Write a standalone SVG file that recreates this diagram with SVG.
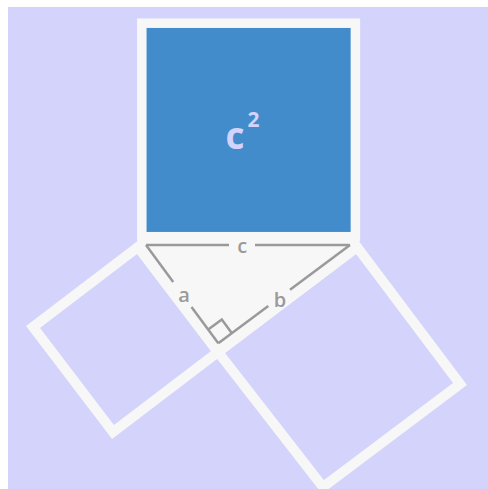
<svg xmlns="http://www.w3.org/2000/svg" width="488" height="489" viewBox="0 0 488 489">
  <defs>
    <style>
      .frame { fill: none; stroke: #f7f7f7; stroke-width: 10; stroke-linejoin: miter; }
      .tri { fill: #f7f7f7; stroke: #f7f7f7; stroke-width: 10; stroke-linejoin: round; }
      .guide { fill: none; stroke: #9a9a9a; stroke-width: 2.5; stroke-linecap: butt; }
      .lbl { font-family: "Open Sans", "Liberation Sans", sans-serif; font-weight: 600; font-size: 20px; fill: #9a9a9a; text-anchor: middle; }
      .sq { font-family: "Open Sans", "Liberation Sans", sans-serif; font-weight: 700; fill: #d3d3fc; text-anchor: middle; }
    </style>
  </defs>
  <rect x="0" y="0" width="488" height="489" fill="#ffffff"/>
  <rect x="8" y="7" width="480" height="482" fill="#d3d3fc"/>

  <g id="square-a">
    <polygon class="frame" points="138,247 218,352 113,432 33,327"/>
  </g>
  <g id="square-b">
    <polygon class="frame" points="218,352 357,247 460,384 323,487"/>
  </g>
  <g id="triangle">
    <rect x="138" y="236" width="219" height="12" fill="#f7f7f7"/>
    <polygon class="tri" points="138,247 357,247 218,352"/>
  </g>
  <g id="square-c">
    <rect x="141.8" y="23.2" width="213.6" height="213.5" fill="#438ccb" stroke="#f7f7f7" stroke-width="9.5"/>
    <text class="sq" x="235" y="149" font-size="37">c</text>
    <text class="sq" x="253.5" y="126.5" font-size="21">2</text>
  </g>

  <g id="connectors">
    <line class="guide" x1="146" y1="245" x2="229" y2="245"/>
    <line class="guide" x1="255" y1="245" x2="350" y2="245"/>
    <line class="guide" x1="146" y1="245" x2="173.2" y2="282"/>
    <line class="guide" x1="191.5" y1="307" x2="218.3" y2="343.3"/>
    <line class="guide" x1="218.3" y1="343.3" x2="268.3" y2="306"/>
    <line class="guide" x1="290" y1="289.8" x2="350" y2="245"/>
    <polyline class="guide" stroke-width="2" points="208.2,329.6 221.8,319.4 231.9,333.2"/>
  </g>

  <g id="labels">
    <text class="lbl" x="242.3" y="253">c</text>
    <text class="lbl" x="184" y="301.5">a</text>
    <text class="lbl" x="280" y="307">b</text>
  </g>
</svg>
